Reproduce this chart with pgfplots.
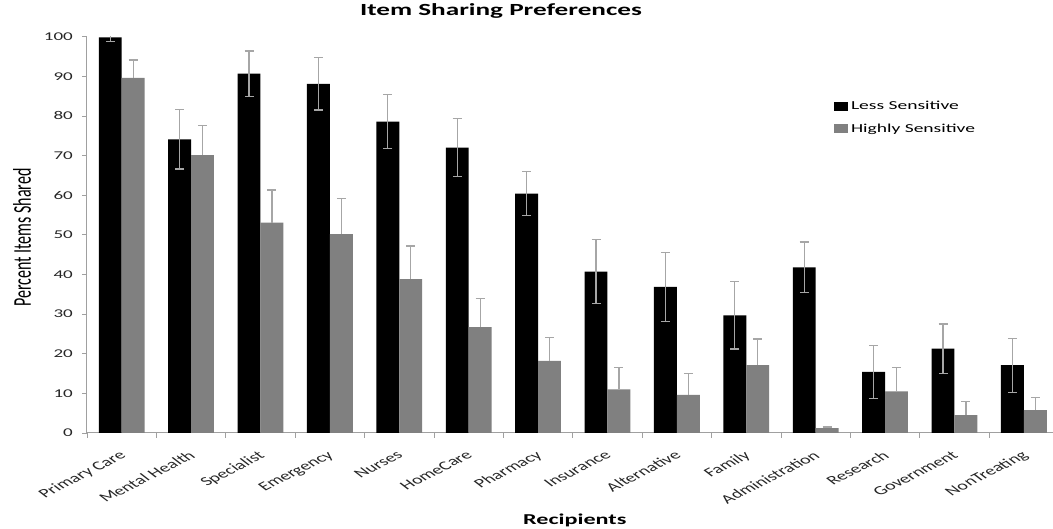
\documentclass[border=0pt]{standalone}
\usepackage{fontspec}
\setmainfont{Carlito}[FakeStretch=1.6]
\newfontfamily\plainfont{Carlito}
\usepackage{pgfplots}
\pgfplotsset{compat=1.18}
\usepackage{pgfplotstable}
\usetikzlibrary{calc}
\definecolor{bargray}{HTML}{808080}
\definecolor{errgray}{HTML}{A6A6A6}
\definecolor{axgray}{HTML}{A0A0A0}

\pgfplotstableread{
x less lesserr high higherr
0  99.8 1.1 89.6 4.5
1  74.1 7.5 70.1 7.4
2  90.7 5.7 53.1 8.2
3  88.1 6.6 50.2 9.0
4  78.6 6.9 38.8 8.4
5  72.0 7.3 26.7 7.3
6  60.4 5.6 18.2 5.8
7  40.7 8.1 11.0 5.5
8  36.9 8.7 9.6  5.4
9  29.7 8.5 17.1 6.6
10 41.8 6.4 1.2  0.3
11 15.4 6.6 10.5 6.0
12 21.3 6.2 4.5  3.4
13 17.1 6.8 5.8  3.2
}\datatable

\begin{document}
\begin{tikzpicture}
\useasboundingbox (-87pt,-96pt) rectangle (966pt,433pt);
\begin{axis}[
  at={(0pt,0pt)}, anchor=south west,
  scale only axis, width=966pt, height=396.3pt,
  xmin=-0.5, xmax=13.42, ymin=0, ymax=100,
  ybar=0pt, bar width=0.33,
  axis x line*=bottom, axis y line*=left,
  axis line style={draw=axgray, line width=1pt},
  tick align=outside,
  major tick length=5pt, minor tick length=5pt,
  ytick={0,10,...,100},
  y tick style={draw=axgray, line width=0.8pt},
  xtick={0,...,13},
  xticklabels={Primary Care, Mental Health, Specialist, Emergency, Nurses, HomeCare, Pharmacy, Insurance, Alternative, Family, Administration, Research, Government, NonTreating},
  minor xtick={-0.5,0.5,...,12.5},
  major x tick style={draw=none},
  minor x tick style={draw=axgray, line width=0.8pt},
  /pgf/number format/assume math mode=true,
  yticklabel style={font=\fontsize{11.9}{11.9}\selectfont, inner sep=0pt, text=black!85, xshift=-9pt},
  xticklabel style={font=\plainfont\fontsize{12.5}{12.5}\selectfont, inner sep=0pt, text=black!85,
    xshift=-3.5pt, yshift=-12pt, cm={1.2434,0.6293,-1.0069,0.7771,(0pt,0pt)}, anchor=north east},
  title={Item Sharing Preferences},
  title style={at={(rel axis cs:0.4286,1)}, anchor=base, yshift=14.7pt, inner sep=0pt, font=\bfseries\fontsize{17}{17}\selectfont},
  xlabel={Recipients},
  xlabel style={at={(rel axis cs:0.505,0)}, anchor=base, yshift=-91.3pt, inner sep=0pt, font=\bfseries\fontsize{15.1}{15.1}\selectfont},
  ylabel={Percent Items Shared},
  ylabel style={at={($(rel axis cs:0,0.4933)+(-65pt,0)$)}, anchor=center, inner sep=0pt, yscale=1.6,
    font=\plainfont\fontsize{16}{16}\selectfont},
  legend style={at={(rel axis cs:0.7733,0.845)}, anchor=north west, draw=none, fill=none, inner sep=0pt,
    font=\fontsize{12.2}{12.2}\selectfont, row sep=7pt, nodes={inner sep=2.8pt}},
  legend cell align=left,
  legend image code/.code={\draw[#1, draw=none] (0pt,-4.5pt) rectangle (14pt,4.5pt);},
]
\addplot[fill=black, draw=none,
  error bars/.cd, y dir=both, y explicit,
  error bar style={draw=errgray, line width=1.2pt},
  error mark options={draw=errgray, line width=1.2pt, mark size=4.5pt, rotate=90}]
  table[x=x, y=less, y error=lesserr]{\datatable};
\addplot[fill=bargray, draw=none,
  error bars/.cd, y dir=plus, y explicit,
  error bar style={draw=errgray, line width=1.2pt},
  error mark options={draw=errgray, line width=1.2pt, mark size=4.5pt, rotate=90}]
  table[x=x, y=high, y error=higherr]{\datatable};
\legend{Less Sensitive, Highly Sensitive}
\end{axis}
\end{tikzpicture}
\end{document}
